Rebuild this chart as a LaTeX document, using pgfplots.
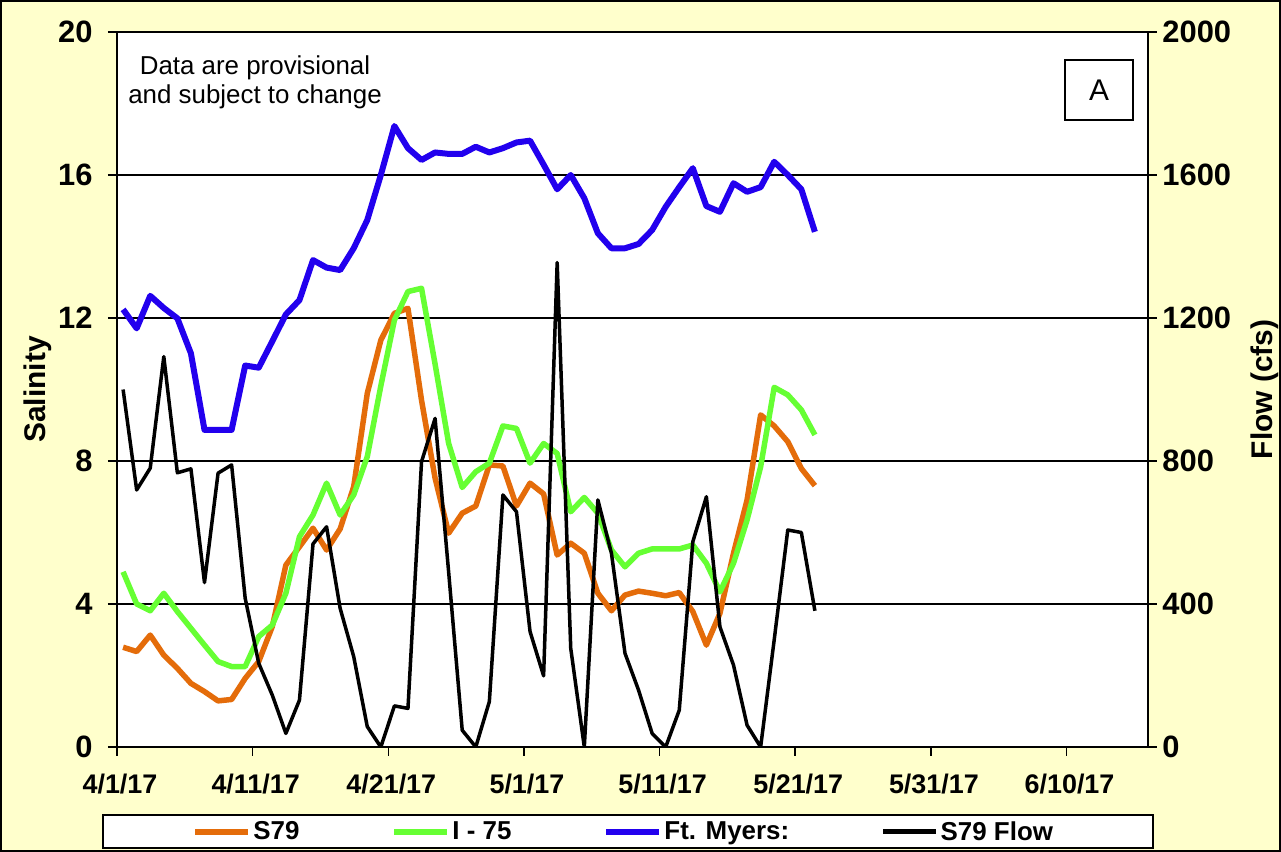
\documentclass[border=0pt]{standalone}
\usepackage{fontspec}
\setmainfont{Liberation Sans}
\usepackage{pgfplots}
\pgfplotsset{compat=1.18}
\usepackage{pgfplotstable}
\definecolor{bgy}{RGB}{255,255,204}
\definecolor{s79c}{RGB}{228,108,10}
\definecolor{i75c}{RGB}{102,255,51}
\definecolor{ftmc}{RGB}{34,0,238}

\pgfplotstableread{
x s79 i75 ftm flow
0.45 2.79 4.90 12.24 1000
1.45 2.67 4.00 11.71 719
2.45 3.13 3.81 12.62 780
3.45 2.57 4.30 12.28 1092
4.45 2.20 3.79 11.99 767
5.45 1.78 3.32 11.01 778
6.45 1.55 2.85 8.87 460
7.45 1.29 2.39 8.87 766
8.45 1.33 2.25 8.87 789
9.45 1.92 2.25 10.67 416
10.45 2.39 3.09 10.61 234
11.45 3.37 3.41 11.35 145
12.45 5.09 4.30 12.10 38
13.45 5.60 5.88 12.50 131
14.45 6.12 6.49 13.62 568
15.45 5.51 7.38 13.41 616
16.45 6.10 6.49 13.34 388
17.45 7.28 7.05 13.95 253
18.45 9.89 8.12 14.74 57
19.45 11.38 10.10 16.00 0
20.45 12.13 11.94 17.37 115
21.45 12.27 12.74 16.75 108
22.45 9.70 12.83 16.42 798
23.45 7.52 10.71 16.63 919
24.45 5.98 8.49 16.59 489
25.45 6.54 7.26 16.59 47
26.45 6.74 7.70 16.79 0
27.45 7.89 7.94 16.63 127
28.45 7.86 8.98 16.75 705
29.45 6.74 8.91 16.91 658
30.45 7.38 7.94 16.96 323
31.45 7.08 8.49 16.29 199
32.45 5.37 8.21 15.60 1355
33.45 5.70 6.58 16.00 276
34.45 5.42 6.98 15.35 0
35.45 4.30 6.54 14.37 691
36.45 3.81 5.51 13.95 542
37.45 4.25 5.04 13.95 262
38.45 4.36 5.42 14.07 159
39.45 4.30 5.54 14.46 38
40.45 4.23 5.54 15.11 0
41.45 4.32 5.54 15.66 103
42.45 3.79 5.65 16.19 574
43.45 2.85 5.14 15.13 700
44.45 3.74 4.34 14.97 336
45.45 5.42 5.14 15.77 229
46.45 6.91 6.35 15.53 61
47.45 9.29 7.84 15.66 0
48.45 8.98 10.06 16.37 300
49.45 8.54 9.85 16.00 607
50.45 7.79 9.43 15.60 600
51.45 7.31 8.73 14.41 381
}\datatable

\begin{document}
\begin{tikzpicture}[x=1bp,y=1bp]
\fill[bgy] (-117,-105) rectangle (1164,747);
\draw[line width=2bp] (-116,-104) rectangle (1163,746);
\useasboundingbox (-117,-105) rectangle (1164,747);
\fill[white] (0,0) rectangle (1031,715);
\filldraw[fill=white,draw=black,line width=1.5bp] (-14,-68) rectangle (1036,-101);

\begin{axis}[
  at={(0,0)}, anchor=south west, scale only axis,
  width=1031bp, height=715bp,
  xmin=0, xmax=76, ymin=0, ymax=20,
  xtick={0,10,...,70},
  xticklabels={4/1/17,4/11/17,4/21/17,5/1/17,5/11/17,5/21/17,5/31/17,6/10/17},
  ytick={0,4,...,20},
  xtick pos=bottom, ytick pos=left,
  tick align=outside, major tick length=9bp,
  ymajorgrids, grid style={black, line width=1.5bp},
  axis line style={line width=1.5bp},
  tick style={black, line width=1.5bp},
  /pgf/number format/assume math mode=true,
  xticklabel style={font=\bfseries\fontsize{27}{27}\selectfont, yshift=-14bp, xshift=3bp},
  yticklabel style={font=\bfseries\fontsize{31}{31}\selectfont, xshift=-12bp},
  ylabel={Salinity},
  ylabel style={font=\bfseries\fontsize{30}{30}\selectfont, at={(axis description cs:-0.0766,0.5)}, anchor=center},
]
\addplot[s79c, line width=5.5bp, line join=round] table[x=x,y=s79] {\datatable};
\addplot[i75c, line width=5.5bp, line join=round] table[x=x,y=i75] {\datatable};
\addplot[ftmc, line width=6bp, line join=round] table[x=x,y=ftm] {\datatable};
\end{axis}

\begin{axis}[
  at={(0,0)}, anchor=south west, scale only axis,
  width=1031bp, height=715bp,
  xmin=0, xmax=76, ymin=0, ymax=2000,
  axis x line=none, axis y line*=right,
  ytick={0,400,...,2000},
  tick align=outside, major tick length=9bp,
  axis line style={line width=1.5bp},
  tick style={black, line width=1.5bp},
  /pgf/number format/assume math mode=true,
  /pgf/number format/1000 sep={},
  yticklabel style={font=\bfseries\fontsize{31}{31}\selectfont, xshift=2bp},
  ylabel={Flow (cfs)},
  ylabel style={font=\bfseries\fontsize{30}{30}\selectfont, at={(axis description cs:1.1135,0.5)}, anchor=center},
  legend columns=4,
  legend style={at={(axis description cs:0.4915,-0.1182)}, anchor=center, draw=none, fill=none,
    font=\bfseries\fontsize{26}{26}\selectfont,
    /tikz/every even column/.append style={column sep=90bp}},
  legend image code/.code={\draw[#1] (0bp,0bp) -- (53bp,0bp);},
]
\addlegendimage{s79c, line width=6bp}
\addlegendentry{S79}
\addlegendimage{i75c, line width=6bp}
\addlegendentry{I - 75}
\addlegendimage{ftmc, line width=6bp}
\addlegendentry{Ft. Myers:}
\addlegendimage{black, line width=4.5bp}
\addlegendentry{S79 Flow}
\addplot[black, line width=3.5bp, line join=round, forget plot] table[x=x,y=flow] {\datatable};
\end{axis}

\node[font=\fontsize{26}{29}\selectfont, align=center] at (138,665) {Data are provisional\\and subject to change};
\node[draw=black, line width=1.5bp, fill=white, minimum width=68bp, minimum height=60bp, font=\fontsize{30}{30}\selectfont] at (982,657) {A};
\end{tikzpicture}
\end{document}
